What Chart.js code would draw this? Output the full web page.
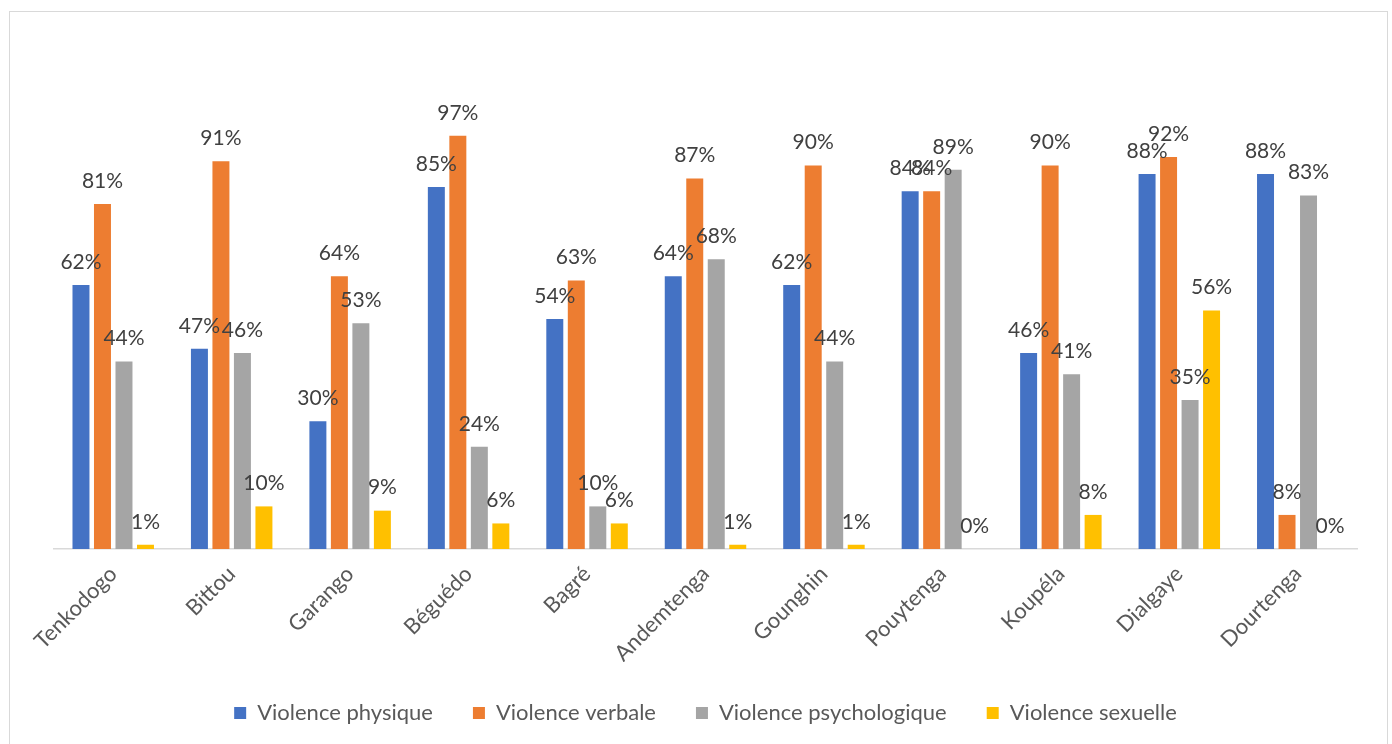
<!DOCTYPE html>
<html>
<head>
<meta charset="utf-8">
<script src="https://cdn.jsdelivr.net/npm/chart.js@4"></script>
<style>
  html, body { margin: 0; padding: 0; background: #fff; }
  #wrap { width: 1392px; height: 744px; position: relative; }
</style>
</head>
<body>
<div id="wrap"><canvas id="chart" width="1392" height="744"></canvas></div>
<script>
// communes
const categories = ["Tenkodogo", "Bittou", "Garango", "Béguédo", "Bagré", "Andemtenga",
  "Gounghin", "Pouytenga", "Koupéla", "Dialgaye", "Dourtenga"];

const seriesNames = ["Violence physique", "Violence verbale", "Violence psychologique", "Violence sexuelle"];

// values in %
const physique = [62, 47, 30, 85, 54, 64, 62, 84, 46, 88, 88];
const verbale = [81, 91, 64, 97, 63, 87, 90, 84, 90, 92, 8];
const psychologique = [44, 46, 53, 24, 10, 68, 44, 89, 41, 35, 83];
const sexuelle = [1, 10, 9, 6, 6, 1, 1, 0, 8, 56, 0];

const colors = ["#4472c4", "#ed7d31", "#a5a5a5", "#ffc000"];
const font = "Lato, 'Open Sans', sans-serif";

// draw the % labels above each bar
const valueLabels = {
  id: "valueLabels",
  afterDatasetsDraw(chart) {
    const ctx = chart.ctx;
    ctx.save();
    ctx.font = "21px " + font;
    ctx.fillStyle = "#404040";
    ctx.textAlign = "center";
    ctx.textBaseline = "middle";
    chart.data.datasets.forEach((ds, i) => {
      chart.getDatasetMeta(i).data.forEach((bar, j) => {
        ctx.fillText(ds.data[j] + "%", bar.x, bar.y - 23);
      });
    });
    ctx.restore();
  }
};

// light frame around the chart
const frame = {
  id: "frame",
  beforeDraw(chart) {
    const ctx = chart.ctx;
    ctx.save();
    ctx.strokeStyle = "#d9d9d9";
    ctx.lineWidth = 1;
    ctx.strokeRect(9.5, 11.5, 1378, 740);
    ctx.restore();
  }
};

const ctx = document.getElementById("chart").getContext("2d");
new Chart(ctx, {
  type: "bar",
  data: {
    labels: categories,
    datasets: [physique, verbale, psychologique, sexuelle].map((d, i) => ({
      label: seriesNames[i],
      data: d,
      backgroundColor: colors[i],
      categoryPercentage: 0.726,
      barPercentage: 0.79
    }))
  },
  options: {
    responsive: false,
    animation: false,
    layout: { padding: { left: 54, right: 35, top: 123, bottom: 10 } },
    plugins: {
      tooltip: { enabled: false },
      legend: {
        position: "bottom",
        labels: {
          font: { family: font, size: 22 },
          color: "#595959",
          boxWidth: 12,
          boxHeight: 12,
          padding: 40
        }
      }
    },
    scales: {
      x: {
        grid: { display: false },
        border: { display: true, color: "#d9d9d9", width: 1.5 },
        ticks: {
          font: { family: font, size: 22 },
          color: "#595959",
          minRotation: 45,
          maxRotation: 45,
          padding: 4
        },
        afterFit(scale) { scale.height = 113; }
      },
      y: {
        display: false,
        min: 0,
        max: 100
      }
    }
  },
  plugins: [valueLabels, frame]
});
</script>
</body>
</html>
